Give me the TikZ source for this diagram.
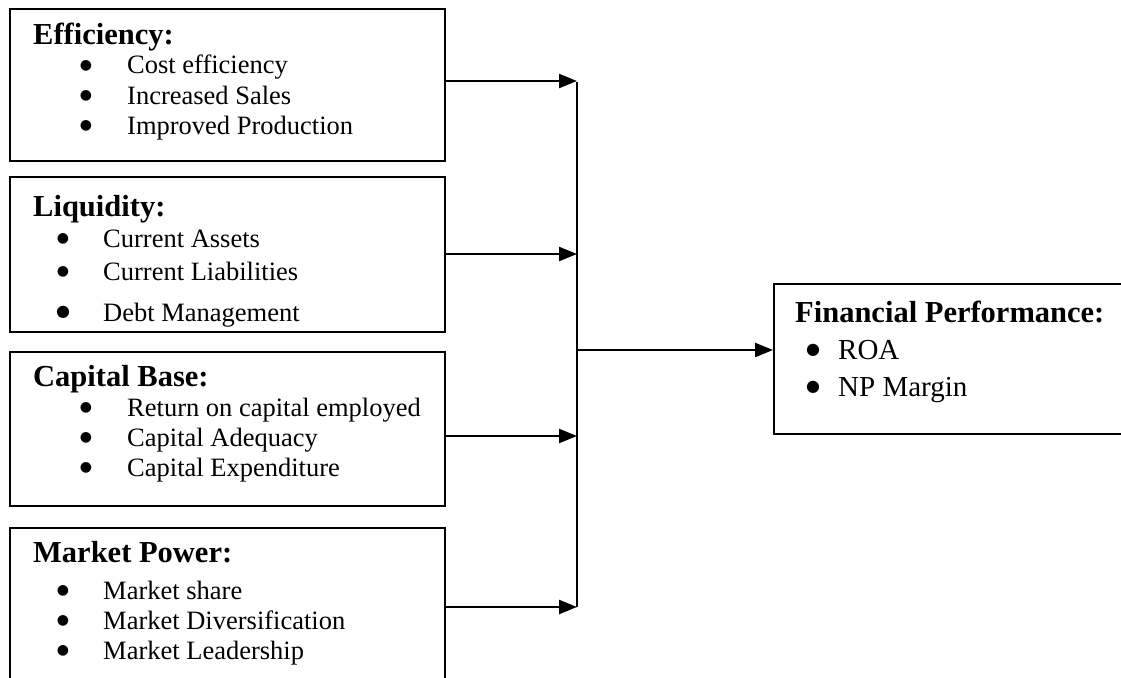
\documentclass[tikz,border=0pt]{standalone}
\usepackage{fontspec}
\setmainfont{Liberation Serif}
\newfontfamily\symfont{DejaVu Sans}
\usetikzlibrary{arrows.meta}
\begin{document}
\begin{tikzpicture}[x=1pt,y=-1pt,
  box/.style={draw, line width=1.8pt, inner sep=0pt, anchor=north west},
  head/.style={anchor=base west, inner sep=0pt, font=\fontsize{30.5}{34}\selectfont\bfseries},
  item/.style={anchor=base west, inner sep=0pt, font=\fontsize{26.5}{30}\selectfont},
  fitem/.style={anchor=base west, inner sep=0pt, font=\fontsize{29}{34}\selectfont},
  bul/.style={anchor=center, inner sep=0pt, font=\symfont\fontsize{14}{14}\selectfont},
  bigbul/.style={anchor=center, inner sep=0pt, font=\symfont\fontsize{16}{16}\selectfont},
  arr/.style={line width=2.4pt, -{Triangle[length=18pt,width=14pt]}},
  conn/.style={line width=2pt}]
\useasboundingbox (0,0) rectangle (1121,677);
\clip (0,0) rectangle (1121,677);
% boxes
\node[box, minimum width=435pt, minimum height=152pt] (b1) at (9,8) {};
\node[box, minimum width=435pt, minimum height=155pt] (b2) at (9,176) {};
\node[box, minimum width=435pt, minimum height=154pt] (b3) at (9,351) {};
\node[box, minimum width=435pt, minimum height=200pt] (b4) at (9,527) {};
\node[box, minimum width=400pt, minimum height=150pt] (fin) at (773,283) {};
% box 1
\node[head] (h1) at (33,45) {Efficiency:};
\node[bul] (p11) at (86,66) {●}; \node[item] (t11) at (127,74) {Cost efficiency};
\node[bul] (p12) at (86,96) {●}; \node[item] (t12) at (127,104) {Increased Sales};
\node[bul] (p13) at (86,126) {●}; \node[item] (t13) at (127,134) {Improved Production};
% box 2
\node[head] (h2) at (33,216) {Liquidity:};
\node[bul] (p21) at (63,239) {●}; \node[item] (t21) at (103,247) {Current Assets};
\node[bul] (p22) at (63,272) {●}; \node[item] (t22) at (103,280) {Current Liabilities};
\node[bigbul] (p23) at (63,312) {●}; \node[item] (t23) at (103,321) {Debt Management};
% box 3
\node[head] (h3) at (33,386) {Capital Base:};
\node[bul] (p31) at (86,408) {●}; \node[item] (t31) at (127,416) {Return on capital employed};
\node[bul] (p32) at (86,438) {●}; \node[item] (t32) at (127,446) {Capital Adequacy};
\node[bul] (p33) at (86,468) {●}; \node[item] (t33) at (127,476) {Capital Expenditure};
% box 4
\node[head] (h4) at (33,562) {Market Power:};
\node[bul] (p41) at (63,591) {●}; \node[item] (t41) at (103,599) {Market share};
\node[bul] (p42) at (63,621) {●}; \node[item] (t42) at (103,629) {Market Diversification};
\node[bul] (p43) at (63,651) {●}; \node[item] (t43) at (103,659) {Market Leadership};
% financial
\node[head] (hf) at (795,322) {Financial Performance:};
\node[bigbul] (pf1) at (813,350) {●}; \node[fitem] (tf1) at (838,359) {ROA};
\node[bigbul] (pf2) at (813,387) {●}; \node[fitem] (tf2) at (838,396) {NP Margin};
% connectors
\coordinate (vt) at (577,82);
\coordinate (j1) at (577,81);
\coordinate (j2) at (577,254);
\coordinate (j3) at (577,436);
\coordinate (j4) at (577,607);
\coordinate (jm) at (577,350);
\draw[conn] (vt) -- (j4);
\draw[arr] (b1.east |- j1) -- (j1);
\draw[arr] (b2.east |- j2) -- (j2);
\draw[arr] (b3.east |- j3) -- (j3);
\draw[arr] (b4.east |- j4) -- (j4);
\draw[arr] (jm) -- (fin.west |- jm);
\end{tikzpicture}
\end{document}
